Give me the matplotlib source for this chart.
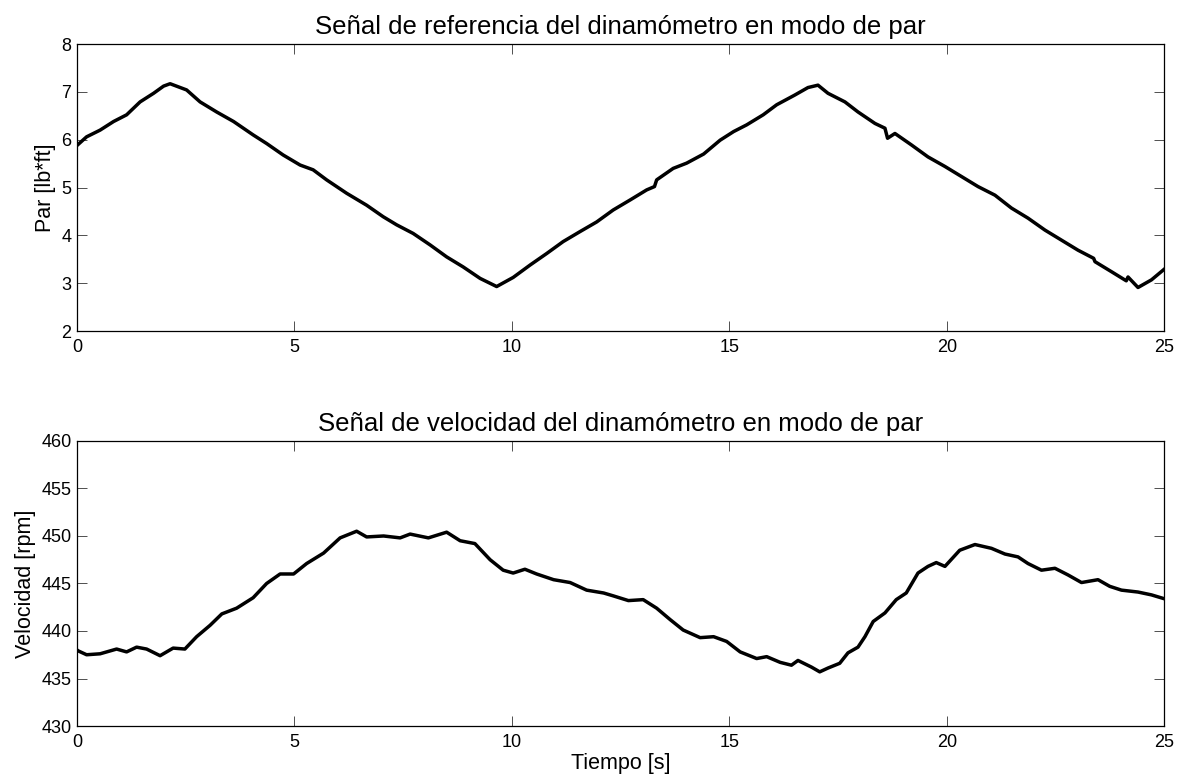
import matplotlib
matplotlib.use("Agg")
import matplotlib.pyplot as plt

plt.rcParams["font.family"] = ["Liberation Sans", "DejaVu Sans"]

# Torque reference (lb*ft) vs time (s)
t_par = [0.00, 0.22, 0.53, 0.84, 1.14, 1.45, 1.76, 1.99, 2.14, 2.52, 2.83, 3.21,
         3.60, 4.05, 4.36, 4.74, 5.13, 5.43, 5.74, 6.20, 6.66, 7.04, 7.35, 7.73,
         8.12, 8.50, 8.88, 9.27, 9.65, 10.03, 10.42, 10.80, 11.18, 11.57, 11.95,
         12.33, 12.72, 13.10, 13.28, 13.33, 13.71, 14.02, 14.41, 14.79, 15.10,
         15.40, 15.78, 16.09, 16.50, 16.81, 17.04, 17.27, 17.66, 17.96, 18.35,
         18.58, 18.64, 18.81, 19.19, 19.57, 19.96, 20.34, 20.72, 21.11, 21.49,
         21.87, 22.26, 22.64, 23.02, 23.38, 23.41, 23.79, 24.13, 24.17, 24.40,
         24.71, 25.00]
par = [5.88, 6.06, 6.20, 6.38, 6.52, 6.79, 6.97, 7.12, 7.17, 7.04, 6.79, 6.58,
       6.38, 6.10, 5.92, 5.68, 5.47, 5.37, 5.16, 4.88, 4.63, 4.39, 4.22, 4.04,
       3.80, 3.55, 3.34, 3.10, 2.93, 3.12, 3.38, 3.62, 3.87, 4.08, 4.28,
       4.53, 4.74, 4.95, 5.02, 5.16, 5.40, 5.51, 5.70, 5.99, 6.17,
       6.31, 6.52, 6.73, 6.93, 7.09, 7.14, 6.97, 6.79, 6.58, 6.34,
       6.24, 6.03, 6.13, 5.89, 5.64, 5.44, 5.23, 5.02, 4.84, 4.57,
       4.36, 4.11, 3.90, 3.69, 3.52, 3.45, 3.24, 3.05, 3.13, 2.91,
       3.07, 3.29]

# Measured speed (rpm) vs time (s)
t_vel = [0.00, 0.03, 0.22, 0.53, 0.91, 1.14, 1.37, 1.60, 1.91, 2.21, 2.48, 2.75,
         3.06, 3.33, 3.67, 4.05, 4.36, 4.67, 4.98, 5.28, 5.67, 6.05, 6.43, 6.66,
         7.05, 7.43, 7.66, 8.08, 8.50, 8.81, 9.15, 9.50, 9.80, 10.03, 10.30,
         10.57, 10.96, 11.34, 11.72, 12.11, 12.33, 12.68, 13.02, 13.33, 13.64,
         13.94, 14.33, 14.64, 14.94, 15.25, 15.63, 15.86, 16.17, 16.43, 16.58,
         16.89, 17.08, 17.27, 17.54, 17.73, 17.96, 18.12, 18.31, 18.58, 18.84,
         19.07, 19.34, 19.57, 19.76, 19.96, 20.30, 20.65, 21.03, 21.34, 21.64,
         21.87, 22.18, 22.49, 22.79, 23.10, 23.48, 23.75, 24.02, 24.40, 24.71,
         25.00]
vel = [438.0, 437.9, 437.5, 437.6, 438.1, 437.8, 438.3, 438.1, 437.4, 438.2, 438.1, 439.4,
       440.6, 441.8, 442.4, 443.5, 445.0, 446.0, 446.0, 447.1, 448.2, 449.8, 450.5, 449.9,
       450.0, 449.8, 450.2, 449.8, 450.4, 449.5, 449.2, 447.5, 446.4, 446.1, 446.5,
       446.0, 445.4, 445.1, 444.3, 444.0, 443.7, 443.2, 443.3, 442.4, 441.2,
       440.1, 439.3, 439.4, 438.9, 437.8, 437.1, 437.3, 436.7, 436.4, 436.9,
       436.2, 435.7, 436.1, 436.6, 437.7, 438.3, 439.4, 441.0, 441.9, 443.3,
       444.0, 446.1, 446.8, 447.2, 446.8, 448.5, 449.1, 448.7, 448.1, 447.8,
       447.1, 446.4, 446.6, 445.9, 445.1, 445.4, 444.7, 444.3, 444.1, 443.8,
       443.4]

x_ticks = [0, 5, 10, 15, 20, 25]
par_ticks = [2, 3, 4, 5, 6, 7, 8]
vel_ticks = [430, 435, 440, 445, 450, 455, 460]


def style_axes(ax):
    ax.tick_params(direction="in", length=7.5, width=0.6, top=True, right=True,
                   labelsize=13, colors="#333333", labelcolor="black")
    ax.tick_params(axis="x", pad=6)
    ax.tick_params(axis="y", pad=4)
    for s in ax.spines.values():
        s.set_linewidth(0.9)


fig = plt.figure(figsize=(11.78, 7.82), dpi=100)
ax1 = fig.add_axes([0.0654, 0.5767, 0.9228, 0.367])
ax2 = fig.add_axes([0.0654, 0.0716, 0.9228, 0.3645])

ax1.plot(t_par, par, color="black", linewidth=2.5)
ax1.set_xlim(0, 25)
ax1.set_ylim(2, 8)
ax1.set_xticks(x_ticks)
ax1.set_yticks(par_ticks)
ax1.set_ylabel("Par [lb*ft]", fontsize=15.5, labelpad=4)
ax1.set_title("Señal de referencia del dinamómetro en modo de par", fontsize=18.5, pad=7.5)
style_axes(ax1)

ax2.plot(t_vel, vel, color="black", linewidth=2.5)
ax2.set_xlim(0, 25)
ax2.set_ylim(430, 460)
ax2.set_xticks(x_ticks)
ax2.set_yticks(vel_ticks)
ax2.set_ylabel("Velocidad [rpm]", fontsize=15.5, labelpad=4)
ax2.set_xlabel("Tiempo [s]", fontsize=15.5, labelpad=1)
ax2.set_title("Señal de velocidad del dinamómetro en modo de par", fontsize=18.5, pad=7.5)
style_axes(ax2)

fig.savefig("out.png", dpi=100)
